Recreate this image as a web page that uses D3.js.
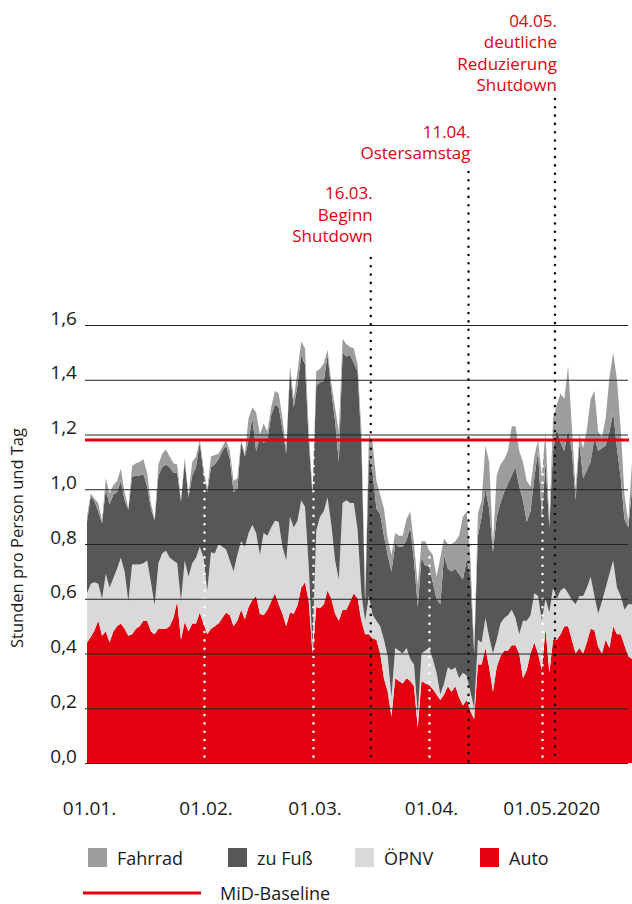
<!DOCTYPE html>
<html>
<head>
<meta charset="utf-8">
<script src="https://cdn.jsdelivr.net/npm/d3@7"></script>
<style>
  body { margin: 0; background: #fff; }
  svg { display: block; font-family: "Open Sans", sans-serif; }
</style>
</head>
<body>
<div id="chart"></div>
<script>
// daily values, 01.01.2020 - 25.05.2020 (hours per person and day)
const auto = [
  .44,.46,.485,.52,.465,.48,.44,.48,.50,.51,.49,.465,.47,.49,.50,.52,.52,.48,.47,.49,
  .49,.49,.50,.53,.59,.45,.515,.48,.51,.51,.55,.51,.47,.49,.50,.51,.53,.55,.54,.50,
  .52,.56,.525,.57,.595,.61,.545,.54,.56,.59,.62,.58,.545,.50,.55,.545,.575,.64,.66,.59,
  .40,.57,.565,.58,.63,.60,.545,.52,.56,.56,.59,.62,.60,.52,.47,.47,.455,.45,.40,.31,
  .26,.17,.31,.30,.29,.31,.30,.28,.13,.30,.29,.285,.27,.25,.23,.25,.28,.26,.28,.24,
  .21,.23,.19,.16,.36,.36,.42,.35,.26,.35,.39,.41,.41,.43,.43,.40,.31,.34,.40,.44,
  .40,.34,.49,.33,.45,.45,.47,.50,.50,.45,.40,.42,.40,.44,.49,.485,.425,.40,.45,.42,
  .50,.47,.47,.43,.39,.38
];
const oepnv = [
  .18,.195,.175,.135,.135,.21,.20,.195,.21,.24,.21,.125,.255,.235,.225,.21,.22,.18,.105,.24,
  .275,.285,.25,.21,.14,.14,.225,.20,.22,.24,.24,.24,.16,.28,.265,.29,.26,.23,.20,.20,
  .24,.25,.265,.27,.275,.23,.215,.30,.27,.27,.265,.30,.245,.24,.35,.315,.31,.32,.275,.125,
  .02,.28,.335,.34,.34,.27,.195,.15,.39,.40,.36,.33,.25,.10,.05,.14,.085,.07,.10,.14,
  .13,.07,.11,.11,.11,.11,.08,.08,.05,.10,.12,.135,.11,.08,.02,.04,.07,.08,.07,.07,
  .12,.09,.07,.04,.09,.08,.11,.11,.14,.10,.12,.12,.13,.13,.10,.07,.21,.18,.14,.18,
  .21,.18,.11,.22,.19,.15,.16,.14,.12,.145,.18,.19,.21,.20,.19,.125,.12,.19,.19,.27,
  .24,.17,.14,.13,.19,.20
];
const fuss = [
  .26,.32,.295,.265,.275,.31,.305,.305,.28,.28,.26,.335,.32,.325,.325,.325,.27,.27,.31,.32,
  .315,.315,.33,.32,.33,.365,.36,.29,.32,.33,.38,.31,.36,.31,.325,.31,.35,.38,.37,.29,
  .24,.36,.33,.34,.39,.30,.43,.33,.35,.41,.425,.42,.43,.39,.53,.44,.495,.53,.52,.46,
  .56,.53,.49,.475,.52,.49,.51,.43,.55,.525,.54,.51,.58,.545,.06,.51,.52,.41,.41,.38,
  .37,.46,.38,.38,.39,.395,.48,.38,.39,.35,.31,.30,.28,.27,.33,.47,.36,.36,.36,.38,
  .34,.42,.42,.20,.38,.46,.47,.47,.37,.45,.44,.46,.48,.49,.55,.54,.44,.36,.38,.42,
  .53,.38,.50,.31,.50,.62,.54,.50,.60,.545,.38,.56,.43,.43,.42,.58,.595,.56,.52,.52,
  .54,.51,.43,.33,.28,.42
];
const rad = [
  .02,.01,.01,.03,.01,.04,.04,.035,.04,.045,.03,.005,.04,.045,.05,.055,.05,.02,.005,.04,
  .05,.055,.04,.035,.03,.005,.015,.01,.05,.04,.01,.02,.01,.04,.035,.02,.015,.02,.03,.04,
  .04,.01,.01,.08,.04,.14,.01,.07,.03,.03,.05,.05,.04,.02,.02,.03,.05,.05,.06,.035,
  .01,.05,.05,.065,.02,.03,.05,.11,.05,.045,.03,.055,.025,.055,.02,.08,.11,.10,.07,.10,
  .06,.06,.04,.04,.04,.075,.06,.06,.08,.06,.09,.06,.10,.08,.17,.06,.09,.10,.10,.14,
  .23,.18,.07,.02,.08,.06,.16,.17,.03,.15,.14,.12,.12,.18,.15,.13,.14,.15,.09,.08,
  .04,.15,.11,.02,.12,.09,.18,.19,.23,.09,.04,.03,.11,.15,.23,.17,.07,.04,.10,.20,
  .22,.25,.18,.09,.02,.10
];

const seriesKeys = ["auto", "oepnv", "fuss", "rad"];
const legendKeys = ["rad", "fuss", "oepnv", "auto"];
const legendLabels = ["Fahrrad", "zu Fuß", "ÖPNV", "Auto"];
const colors = { auto: "#e3000f", oepnv: "#d9d9d9", fuss: "#575757", rad: "#9d9d9d" };

const yTicks = [0, 0.2, 0.4, 0.6, 0.8, 1.0, 1.2, 1.4, 1.6];
const xTickDates = ["2020-01-01", "2020-02-01", "2020-03-01", "2020-04-01", "2020-05-01"];
const xTickLabels = ["01.01.", "01.02.", "01.03.", "01.04.", "01.05.2020"];
const monthLines = ["2020-02-01", "2020-03-01", "2020-04-01", "2020-05-01"];
const baselineValue = 1.18;

const eventDates = ["2020-03-16", "2020-04-11", "2020-05-04"];
const eventLabels = [
  ["16.03.", "Beginn", "Shutdown"],
  ["11.04.", "Ostersamstag"],
  ["04.05.", "deutliche", "Reduzierung", "Shutdown"]
];

// layout
const W = 632, H = 904;
const eventTop = [258, 172, 99];      // top of the dotted marker lines
const eventTextBottom = [242, 159, 91];
const lineH = 21.4;

const parse = d3.timeParse("%Y-%m-%d");
const days = d3.timeDay.range(new Date(2020, 0, 1), new Date(2020, 0, 1 + auto.length));
const data = days.map((d, i) => ({
  date: d, auto: auto[i], oepnv: oepnv[i], fuss: fuss[i], rad: rad[i]
}));

const svg = d3.select("#chart").append("svg")
  .attr("width", W).attr("height", H);

const x = d3.scaleTime()
  .domain([days[0], days[days.length - 1]])
  .range([87, 632]);
const y = d3.scaleLinear().domain([0, 1.6]).range([763, 325]);
const halfDay = (x(days[1]) - x(days[0])) / 2;

// stacked areas
const stacked = d3.stack().keys(seriesKeys)(data);
const area = d3.area()
  .x(d => x(d.data.date))
  .y0(d => y(d[0]))
  .y1(d => y(d[1]));

svg.append("g").selectAll("path")
  .data(stacked)
  .join("path")
  .attr("fill", d => colors[d.key])
  .attr("d", area);

// white dotted month lines
svg.append("g").selectAll("line")
  .data(monthLines)
  .join("line")
  .attr("x1", d => Math.round(x(parse(d))) + 0.5)
  .attr("x2", d => Math.round(x(parse(d))) + 0.5)
  .attr("y1", y(1.6))
  .attr("y2", y(0) - 2)
  .attr("stroke", "#fff")
  .attr("stroke-width", 2.6)
  .attr("stroke-linecap", "round")
  .attr("stroke-dasharray", "0,8.3");

// y axis with grid lines
const yAxis = svg.append("g")
  .attr("transform", "translate(85,0)")
  .call(d3.axisLeft(y)
    .tickValues(yTicks)
    .tickSize(-543)
    .tickFormat(d => d3.format(".1f")(d).replace(".", ",")));
yAxis.select(".domain").remove();
yAxis.selectAll(".tick line")
  .attr("stroke", "#222")
  .attr("stroke-width", 1);
yAxis.selectAll(".tick text")
  .attr("x", -8)
  .attr("dy", "-0.05em")
  .attr("fill", "#1a1a1a")
  .style("font-size", "19px")
  .style("font-family", "'Open Sans', sans-serif");

// MiD baseline
svg.append("line")
  .attr("x1", 85).attr("x2", 629)
  .attr("y1", y(baselineValue)).attr("y2", y(baselineValue))
  .attr("stroke", "#e3000f")
  .attr("stroke-width", 3);

// event marker lines
svg.append("g").selectAll("line")
  .data(eventDates)
  .join("line")
  .attr("x1", d => x(parse(d)) + halfDay)
  .attr("x2", d => x(parse(d)) + halfDay)
  .attr("y1", (d, i) => eventTop[i])
  .attr("y2", y(0))
  .attr("stroke", "#111")
  .attr("stroke-width", 2.6)
  .attr("stroke-linecap", "round")
  .attr("stroke-dasharray", "0,8.3");

// event labels
const ev = svg.append("g")
  .attr("fill", "#e3000f")
  .attr("text-anchor", "end")
  .style("font-size", "17px");
eventDates.forEach((d, i) => {
  const lines = eventLabels[i];
  const t = ev.append("text");
  lines.forEach((s, j) => {
    t.append("tspan")
      .attr("x", x(parse(d)) + halfDay + 2)
      .attr("y", eventTextBottom[i] - (lines.length - 1 - j) * lineH)
      .text(s);
  });
});

// x axis labels
const xAxis = svg.append("g")
  .attr("transform", "translate(0,798)")
  .call(d3.axisBottom(x)
    .tickValues(xTickDates.map(parse))
    .tickSize(0)
    .tickFormat((d, i) => xTickLabels[i]));
xAxis.select(".domain").remove();
xAxis.selectAll(".tick text")
  .attr("dx", 2)
  .attr("fill", "#1a1a1a")
  .style("font-size", "19px")
  .style("font-family", "'Open Sans', sans-serif");
xAxis.selectAll(".tick:last-of-type text")
  .attr("text-anchor", "start")
  .attr("dx", -39);

// y axis title
svg.append("text")
  .attr("transform", "translate(23,538) rotate(-90)")
  .attr("text-anchor", "middle")
  .attr("fill", "#1a1a1a")
  .style("font-size", "16.5px")
  .text("Stunden pro Person und Tag");

// legend
const legendX = [88, 228, 355, 480];
const lg = svg.append("g").selectAll("g")
  .data(legendKeys)
  .join("g")
  .attr("transform", (d, i) => `translate(${legendX[i]},848)`);
lg.append("rect")
  .attr("width", 19).attr("height", 19)
  .attr("fill", d => colors[d]);
lg.append("text")
  .attr("x", 29).attr("y", 10)
  .attr("dominant-baseline", "central")
  .attr("fill", "#1a1a1a")
  .style("font-size", "18px")
  .text((d, i) => legendLabels[i]);

svg.append("line")
  .attr("x1", 83).attr("x2", 201)
  .attr("y1", 893).attr("y2", 893)
  .attr("stroke", "#e3000f")
  .attr("stroke-width", 3);
svg.append("text")
  .attr("x", 220).attr("y", 893)
  .attr("dominant-baseline", "central")
  .attr("fill", "#1a1a1a")
  .style("font-size", "18px")
  .text("MiD-Baseline");
</script>
</body>
</html>
